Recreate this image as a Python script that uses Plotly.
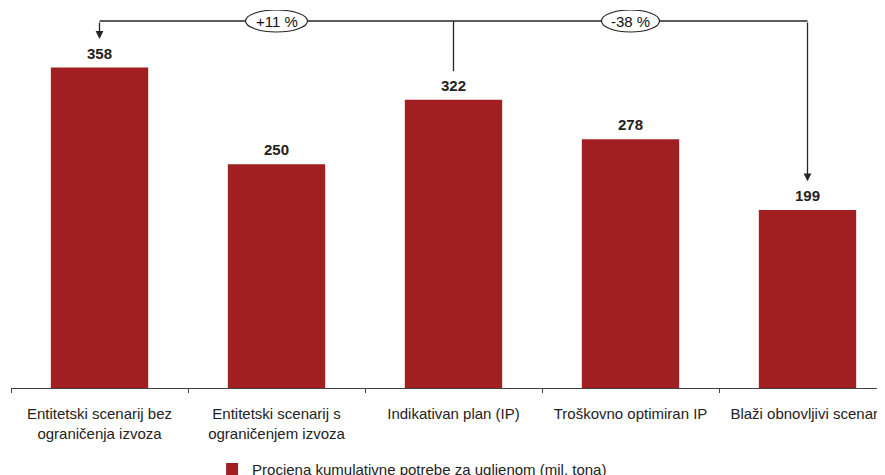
import plotly.graph_objects as go

categories = [
    "Entitetski scenarij bez<br>ograničenja izvoza",
    "Entitetski scenarij s<br>ograničenjem izvoza",
    "Indikativan plan (IP)",
    "Troškovno optimiran IP",
    "Blaži obnovljivi scenarij",
]
values = [358, 250, 322, 278, 199]
series_name = "Procjena kumulativne potrebe za ugljenom (mil. tona)"

BAR_COLOR = "#A11F21"
LINE_COLOR = "#262626"
FONT = "Arial, 'Liberation Sans', sans-serif"
FS = 15

ref_idx = 2          # Indikativan plan (IP) is the reference
cmp_left = 0
cmp_right = 4
pct_left = round((values[cmp_left] / values[ref_idx] - 1) * 100)
pct_right = round((values[cmp_right] / values[ref_idx] - 1) * 100)

fig = go.Figure()
fig.add_trace(go.Bar(
    x=categories, y=values, name=series_name,
    marker=dict(color=BAR_COLOR, line=dict(width=0)),
    width=0.55, showlegend=True,
))

# value labels
for c, v in zip(categories, values):
    fig.add_annotation(x=c, y=v, text=f"<b>{v}</b>", showarrow=False,
                       yanchor="bottom", yshift=4,
                       font=dict(family=FONT, size=FS, color="#222"))

bracket_y = 410
gap = 32
# horizontal bracket line
fig.add_shape(type="line", xref="x", yref="y",
              x0=cmp_left, x1=cmp_right, y0=bracket_y, y1=bracket_y,
              line=dict(color=LINE_COLOR, width=1.3))
# middle stem down to reference bar
fig.add_shape(type="line", xref="x", yref="y",
              x0=ref_idx, x1=ref_idx, y0=bracket_y, y1=values[ref_idx] + gap,
              line=dict(color=LINE_COLOR, width=1.3))
# arrows down to compared bars
for idx in (cmp_left, cmp_right):
    fig.add_annotation(x=idx, y=values[idx] + gap, ax=idx, ay=bracket_y,
                       xref="x", yref="y", axref="x", ayref="y",
                       text="", showarrow=True, arrowhead=2, arrowsize=1.2,
                       arrowwidth=1.3, arrowcolor=LINE_COLOR, standoff=0)

# ellipses with percentages
for xc, pct, hw in ((1, pct_left, 31), (3, pct_right, 29)):
    fig.add_shape(type="circle", xref="x", yref="y",
                  xsizemode="pixel", ysizemode="pixel",
                  xanchor=xc, yanchor=bracket_y,
                  x0=-hw, x1=hw, y0=-11, y1=11,
                  fillcolor="white", line=dict(color=LINE_COLOR, width=1.2),
                  layer="above")
    fig.add_annotation(x=xc, y=bracket_y, text=f"{pct:+d} %", showarrow=False,
                       font=dict(family=FONT, size=FS, color="#111"))

fig.update_layout(
    width=885, height=475,
    margin=dict(l=3, r=0, t=2, b=95, autoexpand=False),
    paper_bgcolor="white", plot_bgcolor="white",
    font=dict(family=FONT, size=FS, color="#222"),
    bargap=0.45,
    showlegend=True,
    legend=dict(orientation="h", x=0.228, xanchor="left", y=-0.171, yanchor="top",
                font=dict(family=FONT, size=FS, color="#222")),
    xaxis=dict(type="category", range=[-0.5, 4.483], showline=True,
               linecolor="#404040", linewidth=1, ticks="outside",
               tickson="boundaries", ticklen=4, tickcolor="#404040",
               ticklabelstandoff=12, automargin=False,
               showgrid=False, tickfont=dict(family=FONT, size=FS, color="#222")),
    yaxis=dict(range=[0, 422.3], visible=False, showgrid=False, zeroline=False,
               automargin=False),
)

fig.write_html("out.html")
